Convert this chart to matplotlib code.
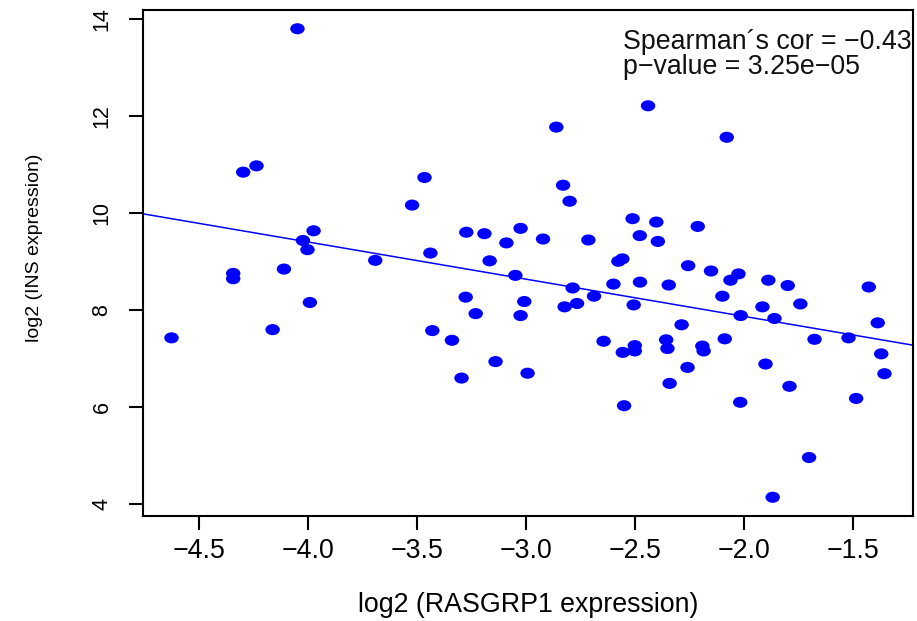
import numpy as np
import matplotlib
matplotlib.use("Agg")
import matplotlib.pyplot as plt
from matplotlib.path import Path
from matplotlib.transforms import Affine2D

# log2 expression values
rasgrp1 = [-4.627, -4.344, -4.344, -4.298, -4.237, -4.163, -4.111, -4.049, -4.024, -4.003,
           -3.992, -3.975, -3.692, -3.523, -3.466, -3.439, -3.430, -3.340, -3.296, -3.277,
           -3.274, -3.231, -3.191, -3.167, -3.140, -3.090, -3.049, -3.025, -3.025, -3.008,
           -2.993, -2.922, -2.861, -2.830, -2.823, -2.800, -2.786, -2.766, -2.714, -2.688,
           -2.644, -2.599, -2.576, -2.558, -2.556, -2.550, -2.511, -2.506, -2.501, -2.501,
           -2.478, -2.477, -2.440, -2.402, -2.395, -2.357, -2.351, -2.345, -2.341, -2.286,
           -2.259, -2.256, -2.212, -2.191, -2.185, -2.151, -2.099, -2.088, -2.079, -2.062,
           -2.025, -2.017, -2.015, -1.915, -1.901, -1.888, -1.868, -1.860, -1.799, -1.791,
           -1.741, -1.701, -1.676, -1.520, -1.485, -1.427, -1.386, -1.370, -1.355]
ins = [7.42, 8.75, 8.64, 10.84, 10.97, 7.59, 8.84, 13.80, 9.43, 9.24,
       8.15, 9.63, 9.02, 10.16, 10.73, 9.17, 7.57, 7.37, 6.59, 8.26,
       9.60, 7.92, 9.57, 9.01, 6.93, 9.38, 8.71, 9.68, 7.88, 8.17,
       6.69, 9.46, 11.77, 10.57, 8.06, 10.24, 8.45, 8.13, 9.44, 8.28,
       7.35, 8.53, 9.00, 9.05, 7.12, 6.02, 9.88, 8.10, 7.26, 7.15,
       9.53, 8.57, 12.21, 9.81, 9.41, 7.38, 7.20, 8.51, 6.48, 7.69,
       6.81, 8.91, 9.72, 7.25, 7.15, 8.80, 8.28, 7.40, 11.56, 8.61,
       8.74, 6.09, 7.88, 8.06, 6.88, 8.61, 4.13, 7.82, 8.50, 6.42,
       8.12, 4.95, 7.39, 7.42, 6.17, 8.47, 7.73, 7.09, 6.68]

xticks = [-4.5, -4.0, -3.5, -3.0, -2.5, -2.0, -1.5]
yticks = [4, 6, 8, 10, 12, 14]
cor_text = "Spearman\u00b4s cor = \u22120.43"
p_text = "p\u2212value = 3.25e\u221205"

plt.rcParams['font.family'] = ['Liberation Sans', 'DejaVu Sans']
plt.rcParams['axes.unicode_minus'] = True

x = np.array(rasgrp1)
y = np.array(ins)

fig = plt.figure(figsize=(9.17, 6.21), dpi=100)
ax = fig.add_axes([143/917, 105/621, 770/917, 506/621])

# points look like slightly wide ellipses in the picture
ell = Path.unit_circle().transformed(Affine2D().scale(1.3, 1.0))
ax.scatter(x, y, s=108, marker=ell, color='#0000ff', edgecolors='none', zorder=3)

# least squares line, R style abline(lm(y ~ x))
b, a = np.polyfit(x, y, 1)
ax.axline((0, a), slope=b, color='#0000ff', lw=1.1, zorder=2)

# R default 4% padding
xr = x.max() - x.min()
yr = y.max() - y.min()
ax.set_xlim(x.min() - 0.04*xr, x.max() + 0.04*xr)
ax.set_ylim(y.min() - 0.04*yr, y.max() + 0.04*yr)

ax.set_xticks(xticks)
ax.set_xticklabels([f"{t:.1f}".replace('-', '\u2212') for t in xticks], fontsize=19.3)
ax.set_yticks(yticks)
ax.set_yticklabels([str(t) for t in yticks], rotation=90, va='center', fontsize=15.5)
ax.tick_params(axis='both', length=10, width=1.5, color='black')
ax.tick_params(axis='x', pad=6)
ax.tick_params(axis='y', pad=12)
for s in ax.spines.values():
    s.set_linewidth(1.5)

ax.set_xlabel("log2 (RASGRP1 expression)", fontsize=19.3, labelpad=20)
ax.set_ylabel("log2 (INS expression)", fontsize=14)
ax.yaxis.set_label_coords(-0.13, 0.53)

# the legend text runs into the right border in the picture, clipped there
ax.text(-2.553, 13.38, cor_text, fontsize=19.3, color='#111111', clip_on=True)
ax.text(-2.553, 12.87, p_text, fontsize=19.3, color='#111111', clip_on=True)

fig.savefig("out.png", dpi=100)
